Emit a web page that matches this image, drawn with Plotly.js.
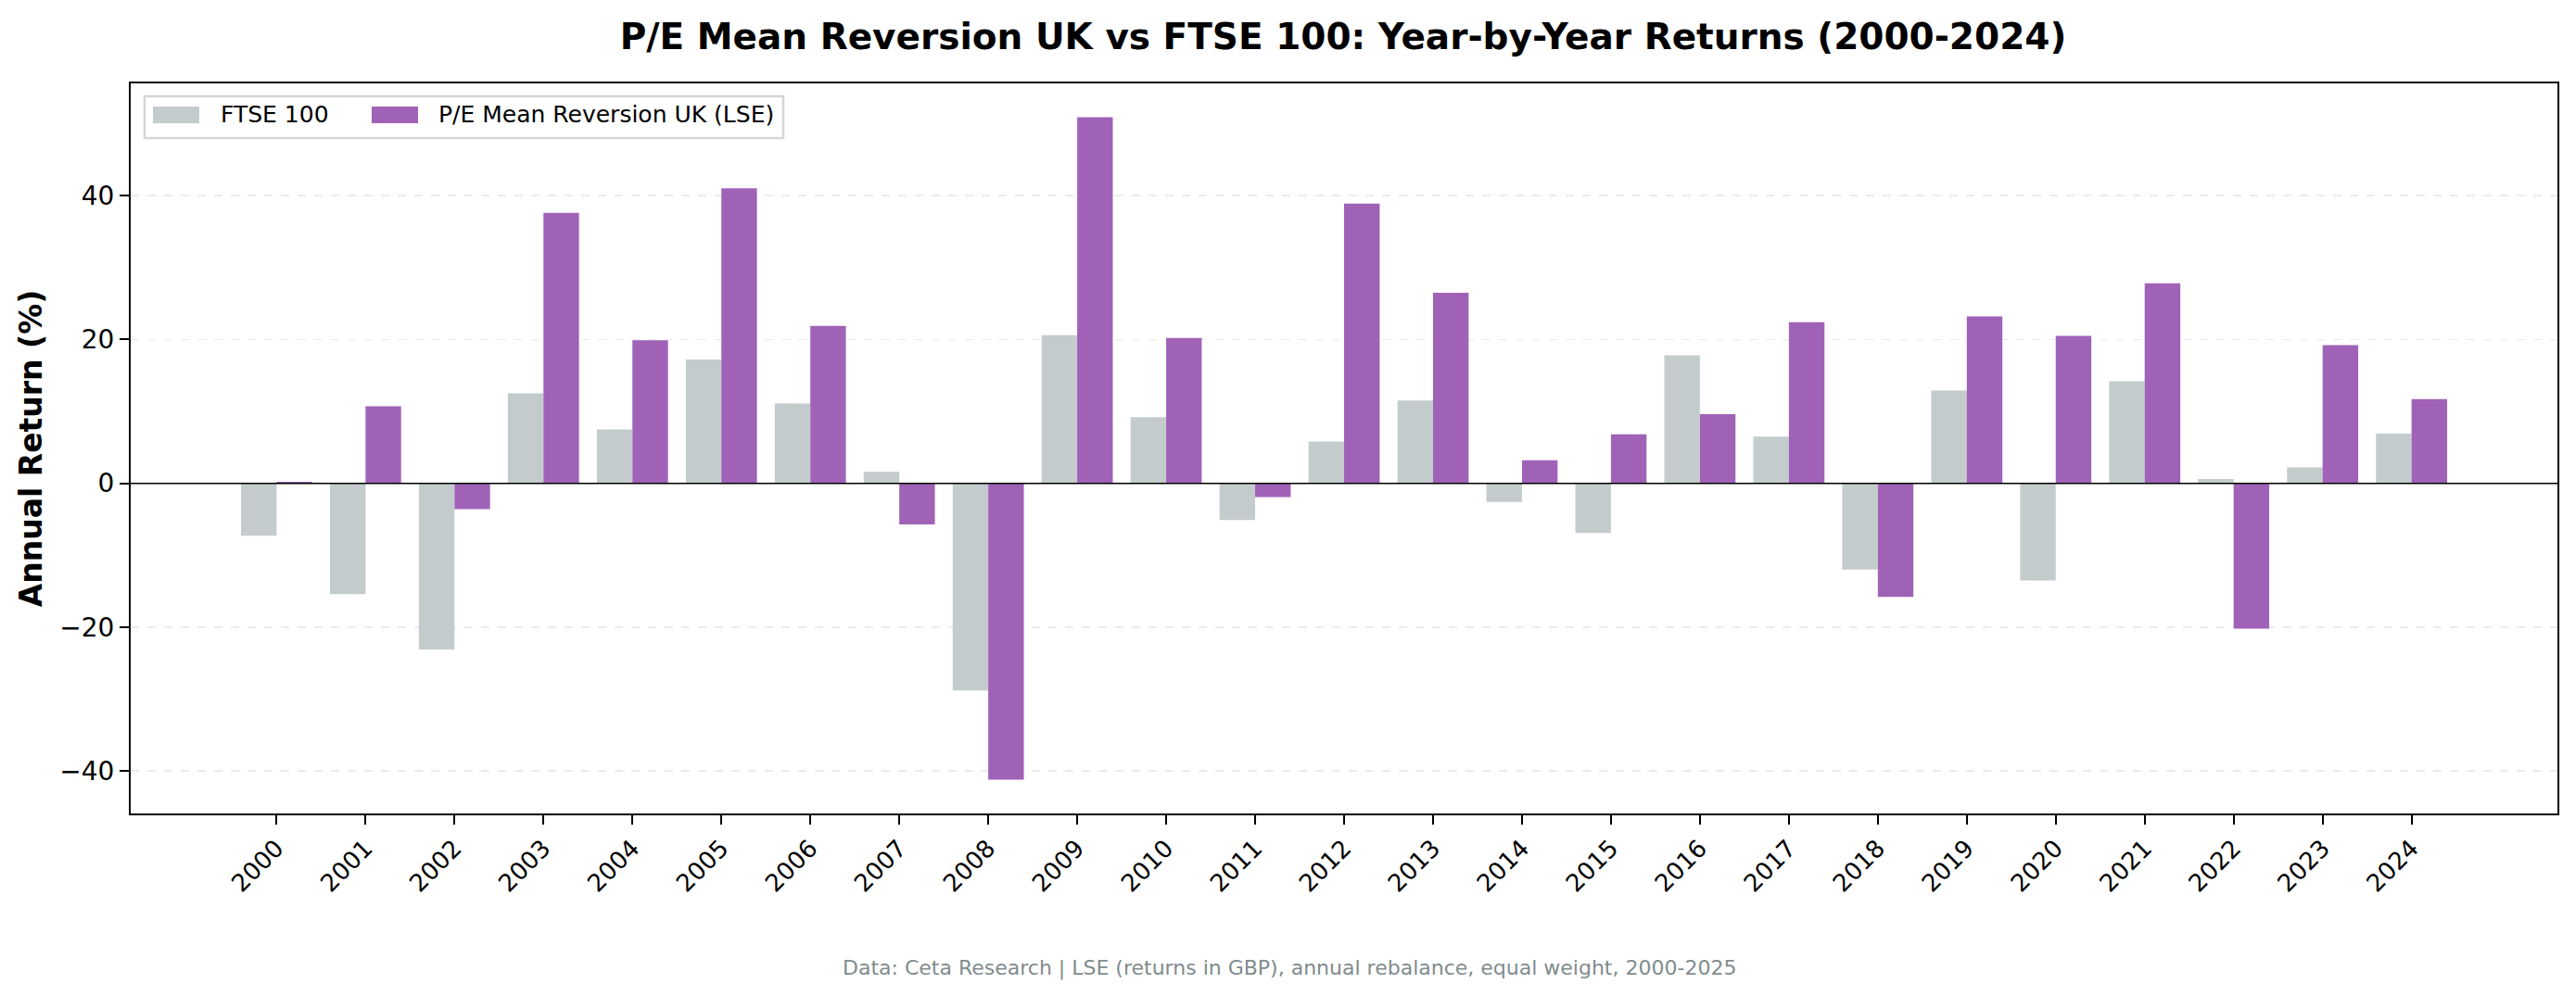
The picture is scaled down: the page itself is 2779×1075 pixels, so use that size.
<!DOCTYPE html>
<html>
<head>
<meta charset="utf-8">
<script src="https://cdn.plot.ly/plotly-3.0.1.min.js"></script>
<style>html,body{margin:0;padding:0;background:#fff;}#chart{width:2779px;height:1075px;}</style>
</head>
<body>
<div id="chart"></div>
<script>
const years = [2000,2001,2002,2003,2004,2005,2006,2007,2008,2009,2010,2011,2012,2013,2014,2015,2016,2017,2018,2019,2020,2021,2022,2023,2024];
const yearLabels = years.map(String);
const ftse = [-7.3,-15.4,-23.1,12.5,7.5,17.2,11.1,1.6,-28.8,20.6,9.2,-5.1,5.8,11.5,-2.6,-6.9,17.8,6.5,-12.0,12.9,-13.5,14.2,0.6,2.2,6.9];
const strategy = [0.2,10.7,-3.6,37.6,19.9,41.0,21.9,-5.7,-41.2,50.9,20.2,-1.9,38.9,26.5,3.2,6.8,9.6,22.4,-15.8,23.2,20.5,27.8,-20.2,19.2,11.7];
const seriesNames = ['FTSE 100', 'P/E Mean Reversion UK (LSE)'];
const yTicks = [-40,-20,0,20,40];

const FONT = 'DejaVu Sans, sans-serif';
const COLORS = ['rgb(196,203,204)', 'rgb(160,98,183)'];

const traces = [
  {type:'bar', name:seriesNames[0], x:years, y:ftse,
   marker:{color:COLORS[0], line:{width:0}}, hoverinfo:'x+y', showlegend:false},
  {type:'bar', name:seriesNames[1], x:years, y:strategy,
   marker:{color:COLORS[1], line:{width:0}}, hoverinfo:'x+y', showlegend:false}
];

// legend drawn as a box with swatches (paper coordinates)
const legSwatchX = [[0.00917, 0.02827], [0.0993, 0.1184]];
const legTextX = [0.0361, 0.1262];
const legendShapes = [
  {type:'rect', xref:'paper', yref:'paper', x0:0.0057, x1:0.2689, y0:0.9251, y1:0.9822,
   fillcolor:'rgba(255,255,255,0.9)', line:{color:'#d6d6d6', width:2.5}, layer:'above'}
].concat(seriesNames.map((n,i)=>({type:'rect', xref:'paper', yref:'paper',
   x0:legSwatchX[i][0], x1:legSwatchX[i][1], y0:0.9454, y1:0.9683,
   fillcolor:COLORS[i], line:{width:0}, layer:'above'})));
const legendTexts = seriesNames.map((n,i)=>({text:n, xref:'paper', yref:'paper', x:legTextX[i], y:0.9569,
   xanchor:'left', yanchor:'middle', showarrow:false, font:{family:FONT, size:25, color:'#000'}}));

const layout = {
  width:2779, height:1075,
  paper_bgcolor:'#ffffff', plot_bgcolor:'#ffffff',
  font:{family:FONT, color:'#000000', size:28},
  margin:{l:141, r:20, t:90, b:197, pad:0},
  barmode:'group', bargap:0.2, bargroupgap:0,
  title:{text:'<b>P/E Mean Reversion UK vs FTSE 100: Year-by-Year Returns (2000-2024)</b>',
         font:{family:FONT, size:39, color:'#000'}, x:0.5214, xanchor:'center', y:0.963, yanchor:'middle'},
  xaxis:{
    range:[1998.36, 2025.64], tickmode:'array', tickvals:years, ticktext:yearLabels,
    tickangle:-45, tickfont:{family:FONT, size:26, color:'#000'},
    ticks:'outside', ticklen:10, tickwidth:2, tickcolor:'#000',
    showline:true, linecolor:'#000', linewidth:2, mirror:true,
    showgrid:false, zeroline:false
  },
  yaxis:{
    range:[-45.9, 55.6], tickmode:'array', tickvals:yTicks, ticktext:yTicks.map(v=>v<0?'\u2212'+Math.abs(v):String(v)),
    tickfont:{family:FONT, size:28, color:'#000'},
    ticks:'outside', ticklen:10, tickwidth:2, tickcolor:'#000',
    showline:true, linecolor:'#000', linewidth:2, mirror:true,
    showgrid:true, gridcolor:'#ebebeb', griddash:'dash', gridwidth:1.5,
    zeroline:false,
    title:{text:'<b>Annual Return (%)</b>', font:{family:FONT, size:33, color:'#000'}, standoff:9}
  },
  shapes:[
    {type:'line', xref:'paper', x0:0, x1:1, yref:'y', y0:0, y1:0, layer:'above',
     line:{color:'#000', width:1.5}}
  ].concat(legendShapes),
  annotations:[
    {text:'Data: Ceta Research | LSE (returns in GBP), annual rebalance, equal weight, 2000-2025',
     xref:'paper', yref:'paper', x:0.4775, y:-0.212, xanchor:'center', yanchor:'middle', showarrow:false,
     font:{family:FONT, size:22, color:'#7f8c8d'}}
  ].concat(legendTexts),
  showlegend:false
};

Plotly.newPlot('chart', traces, layout, {displayModeBar:false, staticPlot:true});
</script>
</body>
</html>
